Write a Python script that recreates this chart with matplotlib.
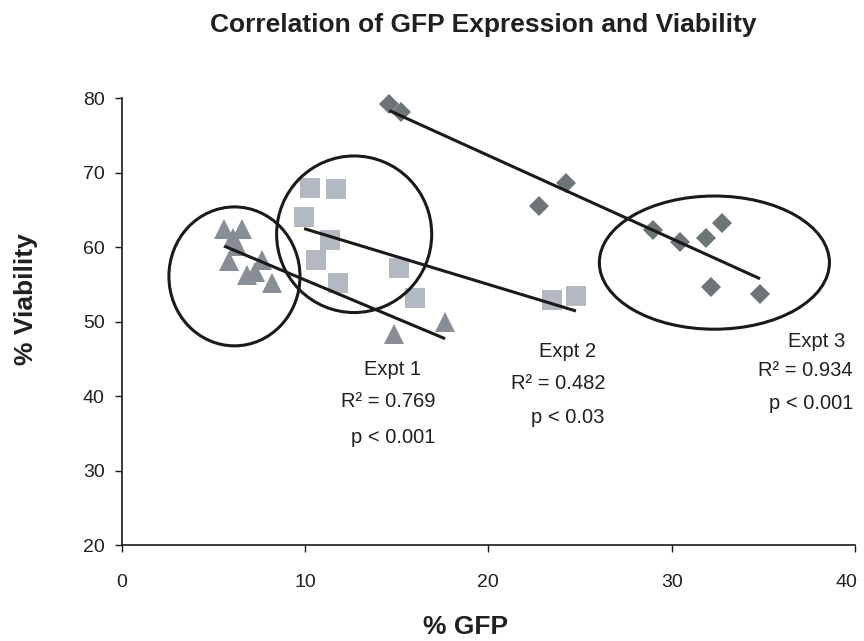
import numpy as np
import matplotlib
matplotlib.use("Agg")
import matplotlib.pyplot as plt
import matplotlib.transforms as mtransforms
from matplotlib.patches import Ellipse

plt.rcParams['font.family'] = ['Liberation Sans', 'DejaVu Sans']

# Expt 1 (triangles)
expt1_gfp = [5.60, 6.55, 6.09, 6.27, 5.87, 7.64, 6.82, 7.27, 8.18, 14.87, 17.64]
expt1_via = [62.4, 62.4, 61.3, 60.1, 58.2, 58.3, 56.3, 56.7, 55.2, 48.4, 50.0]
# Expt 2 (squares)
expt2_gfp = [10.27, 11.69, 9.95, 11.37, 10.60, 11.82, 15.11, 16.00, 23.46, 24.78]
expt2_via = [67.9, 67.8, 64.0, 61.0, 58.3, 55.2, 57.2, 53.2, 52.9, 53.5]
# Expt 3 (diamonds)
expt3_gfp = [14.60, 15.22, 24.24, 22.78, 29.00, 30.46, 31.86, 32.73, 32.13, 34.82]
expt3_via = [79.2, 78.1, 68.6, 65.6, 62.3, 60.7, 61.3, 63.2, 54.7, 53.7]

expt_names = ["Expt 1", "Expt 2", "Expt 3"]
r2_labels = ["R\u00b2 = 0.769", "R\u00b2 = 0.482", "R\u00b2 = 0.934"]
p_labels = ["p < 0.001", "p < 0.03", "p < 0.001"]

x_ticks = [0, 10, 20, 30, 40]
y_ticks = [20, 30, 40, 50, 60, 70, 80]

W, H = 864, 641
fig = plt.figure(figsize=(W / 100, H / 100), dpi=100)
L, R, T, B = 121.7, 855, 98.3, 545
ax = fig.add_axes([L / W, 1 - B / H, (R - L) / W, (B - T) / H])

txtc = '#231f20'
groups = [
    (expt1_gfp, expt1_via, '^', 14.5, '#878e96'),
    (expt2_gfp, expt2_via, 's', 14.0, '#b2b9c1'),
    (expt3_gfp, expt3_via, 'D', 10.5, '#6e7579'),
]
for gx, gy, mk, ms, col in groups:
    gx = np.asarray(gx); gy = np.asarray(gy)
    ax.plot(gx, gy, linestyle='none', marker=mk, markersize=ms,
            markerfacecolor=col, markeredgewidth=0, zorder=3, clip_on=False)
    m, c = np.polyfit(gx, gy, 1)
    xs = np.array([gx.min(), gx.max()])
    ax.plot(xs, m * xs + c, color='#1a1a1a', lw=2.2, zorder=4,
            solid_capstyle='butt')

# grouping ellipses
for (cx, cy, w, h) in [(6.15, 56.08, 7.15, 18.66),
                       (12.68, 61.74, 8.46, 21.03),
                       (32.33, 57.93, 12.55, 17.89)]:
    ax.add_patch(Ellipse((cx, cy), w, h, fill=False, ec='#1a1a1a',
                         lw=2.2, zorder=5, clip_on=False))

# annotations
ann_pos = [
    [(14.78, 43.53), (14.54, 39.27), (14.82, 34.50)],
    [(24.31, 45.99), (23.82, 41.74), (24.31, 37.18)],
    [(37.88, 47.33), (37.28, 43.40), (37.59, 39.06)],
]
for i in range(3):
    for txt, (tx, ty) in zip([expt_names[i], r2_labels[i], p_labels[i]], ann_pos[i]):
        ax.text(tx, ty, txt, ha='center', va='center', fontsize=14.5,
                color=txtc, zorder=6)

ax.set_xlim(0, 40)
ax.set_ylim(20, 80)
ax.set_xticks(x_ticks)
ax.set_yticks(y_ticks)
ax.tick_params(axis='both', direction='out', length=4.8, width=1,
               colors='#1a1a1a', labelsize=14, labelcolor=txtc)
ax.tick_params(axis='y', pad=7.5)
ax.tick_params(axis='x', pad=16)
for s in ['top', 'right']:
    ax.spines[s].set_visible(False)
for s in ['left', 'bottom']:
    ax.spines[s].set_color('#1a1a1a')
    ax.spines[s].set_linewidth(1.2)
ax.patch.set_alpha(0)

# keep the last x tick label fully inside the figure
last_lbl = ax.get_xticklabels()[-1]
last_lbl.set_transform(last_lbl.get_transform() +
                       mtransforms.ScaledTranslation(-9 / 100, 0, fig.dpi_scale_trans))

fig.text(483.5 / W, 1 - 25 / H, "Correlation of GFP Expression and Viability",
         ha='center', va='center', fontsize=19, fontweight='bold', color=txtc)
fig.text(466 / W, 1 - 627.5 / H, "% GFP", ha='center', va='center',
         fontsize=19, fontweight='bold', color=txtc)
fig.text(26 / W, 1 - 299 / H, "% Viability", ha='center', va='center',
         rotation=90, fontsize=19, fontweight='bold', color=txtc)

fig.savefig("out.png", dpi=100)
